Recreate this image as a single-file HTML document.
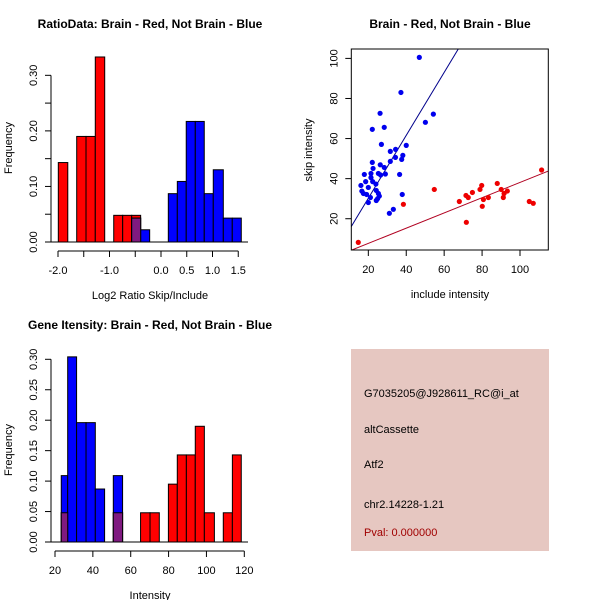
<!DOCTYPE html>
<html><head><meta charset="utf-8"><style>
body{margin:0;background:#fff}
svg{display:block;font-family:"Liberation Sans",sans-serif}
</style></head><body>
<svg id="s" width="600" height="600" viewBox="0 0 600 600">
<rect width="600" height="600" fill="#fff"/>
</svg>
<script>
// Panel 1: ratio histogram
const ratioRedLeft=[-1.994,-1.637,-1.456,-1.276,-0.918,-0.744,-0.569];
const ratioRedRight=[-1.81,-1.456,-1.276,-1.093,-0.744,-0.569,-0.395];
const ratioRedFreq=[0.143,0.19,0.19,0.333,0.048,0.048,0.048];
const ratioBlueLeft=[-0.569,-0.395,0.142,0.317,0.49,0.666,0.84,1.015,1.21,1.384];
const ratioBlueRight=[-0.395,-0.22,0.317,0.49,0.666,0.84,1.015,1.21,1.384,1.559];
const ratioBlueFreq=[0.043,0.022,0.087,0.109,0.217,0.217,0.087,0.13,0.043,0.043];
const ratioXTicks=[-2,-1.5,-1,-0.5,0,0.5,1,1.5];
const ratioXLabels=["-2.0","","-1.0","","0.0","0.5","1.0","1.5"];
const ratioYTicks=[0,0.05,0.1,0.15,0.2,0.25,0.3];
const ratioYLabels=["0.00","","0.10","","0.20","","0.30"];
// Panel 2: scatter
const blueInclude=[46.9,37.2,26.2,54.3,50.1,28.4,22.1,26.9,40.0,31.6,34.4,34.3,38.2,37.6,31.6,22.1,26.3,28.4,22.5,17.9,21.4,25.3,29,36.5,26.5,21.4,22.3,18.6,24,16.1,20,24.2,16.6,17.4,19.1,25.3,37.9,25.8,21.1,24.9,24.2,20,33.2,31.1];
const blueSkip=[100.5,83,72.6,72.2,68.1,65.6,64.6,57.1,56.6,53.6,54.6,50.6,51.6,49.6,48.6,48.1,46.9,45.6,45.1,42.1,42.6,42.6,42.3,42.1,41.8,40.5,38.5,38.5,37.3,36.6,35.6,34.1,33.8,32.6,32.1,32.6,32.1,31.3,30.6,30,29.1,28.1,24.7,22.7];
const redInclude=[111.4,54.8,88,79.8,78.9,90.1,93.3,74.9,71.5,91.6,72.7,83.3,91.2,80.7,68,104.9,107,38.5,80.1,71.7,14.7];
const redSkip=[44.3,34.6,37.6,36.6,34.6,34.6,33.8,33.1,31.6,32.6,30.6,30.6,30.6,29.6,28.6,28.6,27.7,27.2,26.2,18.2,8.2];
const blueFit=[-1.2,1.57]; // intercept, slope
const redFit=[0.1,0.38];
const scXTicks=[20,40,60,80,100];
const scYTicks=[20,40,60,80,100];
// Panel 3: intensity histogram
const intBlueLeft=[23.3,26.7,31.4,36.4,41.3,50.8];
const intBlueRight=[26.7,31.4,36.4,41.3,46.2,55.7];
const intBlueFreq=[0.109,0.304,0.196,0.196,0.087,0.109];
const intRedLeft=[23.3,50.8,65.2,70.2,79.9,84.6,89.4,94.1,98.9,108.9,113.7];
const intRedRight=[26.7,55.7,70.2,75.1,84.6,89.4,94.1,98.9,104.2,113.7,118.4];
const intRedFreq=[0.048,0.048,0.048,0.048,0.095,0.143,0.143,0.19,0.048,0.048,0.143];
const intXTicks=[20,40,60,80,100,120];
const intYTicks=[0,0.05,0.1,0.15,0.2,0.25,0.3];
const intYLabels=["0.00","0.05","0.10","0.15","0.20","0.25","0.30"];

const svg=document.getElementById('s');
const NS='http://www.w3.org/2000/svg';
function mk(tag,attrs,parent){const e=document.createElementNS(NS,tag);for(const k in attrs)e.setAttribute(k,attrs[k]);(parent||svg).appendChild(e);return e;}
function txt(x,y,s,opt,parent){const t=mk('text',Object.assign({x:x,y:y,'font-size':11,'text-anchor':'middle',fill:'#000'},opt||{}),parent);t.textContent=s;return t;}
function grp(name){const g=mk('g',{});return g;}

function histPanel(cfg){
  const g=grp(cfg.name);
  const sx=v=>cfg.x0+(v-cfg.xa)*cfg.xs, sy=v=>cfg.y0-v*cfg.ys;
  const bars=grp(cfg.name+'-bars');g.appendChild(bars);
  const drawSet=(L,R,F,col,nm)=>{for(let i=0;i<F.length;i++){if(F[i]<=0)continue;const r=mk('rect',{x:sx(L[i]),y:sy(F[i]),width:sx(R[i])-sx(L[i]),height:sy(0)-sy(F[i]),fill:col,stroke:'#000','stroke-width':1},bars);
    
    }};
  drawSet(cfg.rL,cfg.rR,cfg.rF,'#ff0000','red');
  drawSet(cfg.bL,cfg.bR,cfg.bF,'#0000ff','blue');
  for(let i=0;i<cfg.rF.length;i++)for(let j=0;j<cfg.bF.length;j++){
    if(Math.abs(cfg.rL[i]-cfg.bL[j])<0.01){const h=Math.min(cfg.rF[i],cfg.bF[j]);
      const r=mk('rect',{x:sx(cfg.rL[i]),y:sy(h),width:sx(cfg.rR[i])-sx(cfg.rL[i]),height:sy(0)-sy(h),fill:'#7f1a80',stroke:'#000','stroke-width':1},bars);
      
      }}
  mk('line',{x1:cfg.bx1,x2:cfg.bx2,y1:sy(0),y2:sy(0),stroke:'#000'},g);
  // y axis
  const ya=grp(cfg.name+'-y-axis');g.appendChild(ya);
  const yt=cfg.yT;mk('line',{x1:cfg.yx,x2:cfg.yx,y1:sy(yt[0]),y2:sy(yt[yt.length-1]),stroke:'#000'},ya);
  yt.forEach((v,i)=>{mk('line',{x1:cfg.yx-6,x2:cfg.yx,y1:sy(v),y2:sy(v),stroke:'#000'},ya);
    if(cfg.yL[i])txt(cfg.yx-14,sy(v),cfg.yL[i],{transform:`rotate(-90 ${cfg.yx-14} ${sy(v)})`},ya);});
  const xa=grp(cfg.name+'-x-axis');g.appendChild(xa);
  const xt=cfg.xT;mk('line',{x1:sx(xt[0]),x2:sx(xt[xt.length-1]),y1:cfg.xy,y2:cfg.xy,stroke:'#000'},xa);
  xt.forEach((v,i)=>{mk('line',{x1:sx(v),x2:sx(v),y1:cfg.xy,y2:cfg.xy+6,stroke:'#000'},xa);
    if(cfg.xL[i])txt(sx(v),cfg.xy+23,cfg.xL[i],{},xa);});
  const xl=txt(cfg.cx,cfg.xy+48,cfg.xlab,{},g);
  const yl=txt(12,cfg.cy,'Frequency',{transform:`rotate(-90 12 ${cfg.cy})`},g);
  const tt=txt(150,cfg.ty,cfg.title,{'font-weight':'bold','font-size':12},g);
}
histPanel({name:'ratio-histogram',x0:58,xa:-2,xs:51.5,y0:242,ys:555.6,rL:ratioRedLeft,rR:ratioRedRight,rF:ratioRedFreq,bL:ratioBlueLeft,bR:ratioBlueRight,bF:ratioBlueFreq,
  bx1:51,bx2:248,yx:51,yT:ratioYTicks,yL:ratioYLabels,xy:251,xT:ratioXTicks,xL:ratioXLabels,cx:150,cy:148,xlab:'Log2 Ratio Skip/Include',ty:28,title:'RatioData: Brain - Red, Not Brain - Blue'});
histPanel({name:'intensity-histogram',x0:55,xa:20,xs:1.893,y0:542,ys:609,rL:intRedLeft,rR:intRedRight,rF:intRedFreq,bL:intBlueLeft,bR:intBlueRight,bF:intBlueFreq,
  bx1:51,bx2:248,yx:51,yT:intYTicks,yL:intYLabels,xy:551,xT:intXTicks,xL:intXTicks.map(String),cx:150,cy:450,xlab:'Intensity',ty:329,title:'Gene Itensity: Brain - Red, Not Brain - Blue'});

// scatter
(function(){
  const g=grp('scatter-plot');
  const X0=351.3,X1=548.3,Y0=49,Y1=250;
  const sx=v=>330.4+v*1.896, sy=v=>258.8-v*2.004;
  const xmin=(X0-330.4)/1.896,xmax=(X1-330.4)/1.896;
  const clip=mk('clipPath',{id:'pc'},g);mk('rect',{x:X0,y:Y0,width:X1-X0,height:Y1-Y0},clip);
  const pts=grp('scatter-points');g.appendChild(pts);pts.setAttribute('clip-path','url(#pc)');
  [[blueFit,'#00008b','blue-fit-line'],[redFit,'#b00020','red-fit-line']].forEach(([f,c,n])=>{
    const l=mk('line',{x1:sx(xmin),y1:sy(f[0]+f[1]*xmin),x2:sx(xmax),y2:sy(f[0]+f[1]*xmax),stroke:c,'stroke-width':1},pts);
    
    });
  blueInclude.forEach((v,i)=>{const c=mk('circle',{cx:sx(v),cy:sy(blueSkip[i]),r:2.6,fill:'#0000ee'},pts);
    
    });
  redInclude.forEach((v,i)=>{const c=mk('circle',{cx:sx(v),cy:sy(redSkip[i]),r:2.6,fill:'#ee0000'},pts);
    
    });
  mk('rect',{x:X0,y:Y0,width:X1-X0,height:Y1-Y0,fill:'none',stroke:'#000'},g);
  const xa=grp('scatter-x-axis');g.appendChild(xa);
  scXTicks.forEach(v=>{mk('line',{x1:sx(v),x2:sx(v),y1:Y1,y2:Y1+6,stroke:'#000'},xa);txt(sx(v),Y1+23,String(v),{},xa);});
  const ya=grp('scatter-y-axis');g.appendChild(ya);
  scYTicks.forEach(v=>{mk('line',{x1:X0-6,x2:X0,y1:sy(v),y2:sy(v),stroke:'#000'},ya);txt(X0-14,sy(v),String(v),{transform:`rotate(-90 ${X0-14} ${sy(v)})`},ya);});
  const xl=txt(450,298,'include intensity',{},g);
  const yl=txt(312,150,'skip intensity',{transform:'rotate(-90 312 150)'},g);
  const tt=txt(450,28,'Brain - Red, Not Brain - Blue',{'font-weight':'bold','font-size':12},g);
})();

// info box
(function(){
  const g=grp('info-box');
  mk('rect',{x:351,y:349,width:198,height:202,fill:'#e6c7c1'},g);
  const lines=[['G7035205@J928611_RC@i_at',397,'#000','probe-id'],['altCassette',433,'#000','event-type'],['Atf2',468,'#000','gene-name'],['chr2.14228-1.21',508,'#000','location'],['Pval: 0.000000',536,'#a00000','p-value']];
  lines.forEach(([s,y,c,n])=>{const t=txt(364,y,s,{'text-anchor':'start',fill:c},g);});
})();
</script>
</body></html>
